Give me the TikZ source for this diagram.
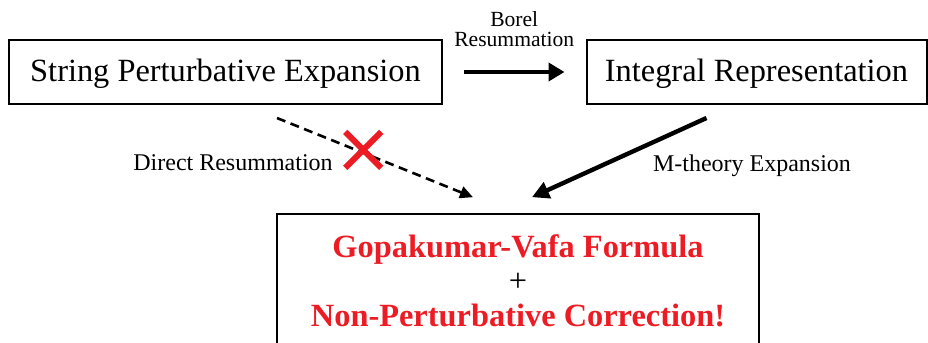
\documentclass[tikz,border=0pt]{standalone}
\usepackage{fontspec}
\setmainfont{Liberation Serif}
\usetikzlibrary{arrows.meta,shapes.misc}
\definecolor{gvred}{RGB}{237,28,36}

\begin{document}
\begin{tikzpicture}[
    x = 0.5pt, y = -0.5pt,
    box/.style = {draw, line width = 1pt, inner sep = 0pt, minimum height = 32pt,
        font = \fontsize{16.2}{19}\selectfont, text height = 11.3pt, text depth = 1.6pt},
    lbl/.style = {font = \fontsize{12}{14}\selectfont, inner sep = 0pt, anchor = base}
]
\useasboundingbox (0,0) rectangle (928,343);
\node[box] (spe) [minimum width = 216.5pt] at (225.5,72) {String Perturbative Expansion};
\node[box] (intrep) [minimum width = 170pt] at (756.5,72) {Integral Representation};
\node[draw, line width = 1pt, minimum width = 241pt, minimum height = 66.3pt,
    align = center, font = \fontsize{16.2}{17.3}\selectfont] (gv) at (518,280.5)
    {{\color{gvred}\bfseries Gopakumar-Vafa Formula}\\ +\\
     {\color{gvred}\bfseries Non-Perturbative Correction!}};
\node[lbl] (direct) at (233,170) {Direct Resummation};
\node[lbl] (mtheory) at (752,171) {M-theory Expansion};
% arrows
\path
(spe) edge[line width = 2.2pt, -{Triangle[length = 8pt, width = 9pt]},
    shorten < = 10.5pt, shorten > = 10.5pt]
    node[midway, above = 11.5pt, inner sep = 0pt, align = center,
        font = \fontsize{10.8}{9.8}\selectfont] (borel) {Borel\\ Resummation} (intrep)
([xshift = 25.75pt, yshift = -6.5pt]spe.south) edge[line width = 1.3pt,
    dash pattern = on 4.5pt off 2.8pt, -{Triangle[length = 6.5pt, width = 6pt]}]
    node[pos = 0.44, yshift = 1.5pt, cross out, draw = gvred, solid, line width = 3pt,
        minimum size = 15pt, inner sep = 0pt] (nogo) {}
    ([xshift = -22.5pt, yshift = 8pt]gv.north)
([xshift = -25pt, yshift = -6.5pt]intrep.south) edge[line width = 2.2pt,
    -{Triangle[length = 8.5pt, width = 8.5pt]}] ([xshift = 7pt, yshift = 8pt]gv.north)
;

\end{tikzpicture}
\end{document}
